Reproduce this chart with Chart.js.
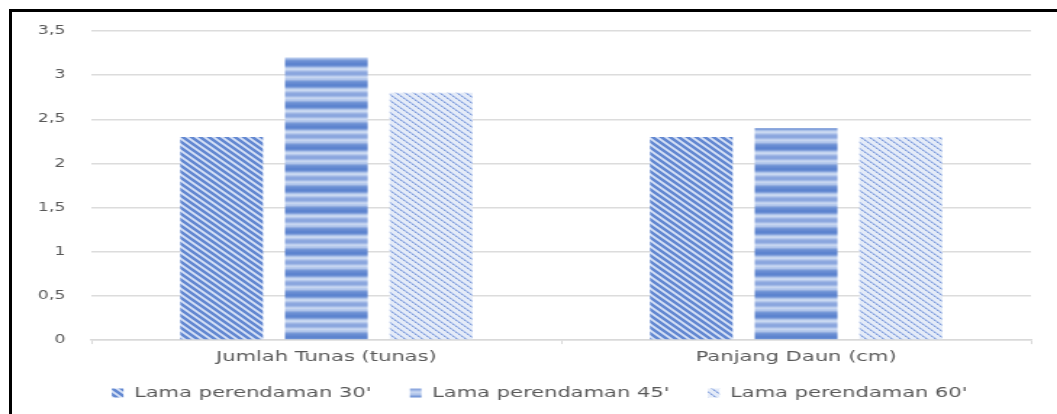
<!DOCTYPE html>
<html>
<head>
<meta charset="utf-8">
<script src="https://cdn.jsdelivr.net/npm/chart.js@4.4.1/dist/chart.umd.min.js"></script>
<style>
  html, body { margin: 0; padding: 0; background: #fff; overflow: hidden; }
  /* the chart is laid out narrow and widened horizontally */
  #stage { position: absolute; left: 0; top: 0; width: 729px; height: 414px;
           transform: scaleX(1.45); transform-origin: 0 0; }
  #frame { position: absolute; left: 9px; top: 9px; width: 1100px; height: 500px;
           border-top: 3px solid #000; border-left: 3px solid #000; pointer-events: none; }
</style>
</head>
<body>
<div id="stage"><canvas id="c" width="729" height="414"></canvas></div>
<div id="frame"></div>
<script>
const categories = ['Jumlah Tunas (tunas)', 'Panjang Daun (cm)'];
const seriesNames = ["Lama perendaman 30'", "Lama perendaman 45'", "Lama perendaman 60'"];
const soak30 = [2.3, 2.3];
const soak45 = [3.2, 2.4];
const soak60 = [2.8, 2.3];
const yTickLabels = ['0', '0,5', '1', '1,5', '2', '2,5', '3', '3,5'];

const FONT = 'DejaVu Sans';
const TEXT = '#595959';
const canvas = document.getElementById('c');
const mainCtx = canvas.getContext('2d');

function makePattern(w, h, paint) {
  const t = document.createElement('canvas');
  t.width = w; t.height = h;
  paint(t.getContext('2d'), w, h);
  return mainCtx.createPattern(t, 'repeat');
}

// dense diagonal hatch
const hatch30 = makePattern(6, 6, (x, w, h) => {
  x.fillStyle = '#b9cbee'; x.fillRect(0, 0, w, h);
  x.fillStyle = '#6388d1';
  for (let r = 0; r < h; r++) for (let k = 0; k < 3; k++) x.fillRect((r + k) % w, r, 1, 1);
  x.fillStyle = '#dae3f6';
  for (let r = 0; r < h; r++) x.fillRect((r + 4) % w, r, 1, 1);
});

// horizontal stripes
const stripeRows = ['#5d84cf', '#5d84cf', '#6a8ed3', '#86a3dc', '#a9c0e8', '#c3d3ef', '#c9d8f1',
  '#b5c8ec', '#9fb6e4', '#8fa9df', '#8aa6de', '#8fa9df', '#a3bae6', '#bccdee', '#c6d5f0',
  '#b8cbed', '#aec3ea', '#92acdf', '#7799d8', '#6a8ed3', '#6589d1'];
const stripe45 = makePattern(4, stripeRows.length, (x, w) => {
  stripeRows.forEach((c, i) => { x.fillStyle = c; x.fillRect(0, i, w, 1); });
});

// light dotted diagonal
const dots60 = makePattern(6, 6, (x, w, h) => {
  x.fillStyle = '#e4ebf8'; x.fillRect(0, 0, w, h);
  x.fillStyle = '#b0c3ec';
  for (let r = 0; r < h; r++) for (let k = 0; k < 2; k++) x.fillRect((r + k) % w, r, 1, 1);
  x.fillStyle = '#7f9bd8';
  for (let r = 0; r < h; r += 2) x.fillRect(r % w, r, 1, 1);
});

// keeps the legend row close under the category labels
const legendPlacement = {
  id: 'legendPlacement',
  afterInit(chart) {
    const lg = chart.legend;
    const fit0 = lg.fit.bind(lg);
    lg.fit = function () { fit0(); this.height -= 20; };
  },
  afterLayout(chart) {
    const lg = chart.legend;
    lg.top -= 10.25;
    lg.height = lg.bottom - lg.top;
    lg.left += 12.7;
    lg.right += 12.7;
  }
};

new Chart(canvas, {
  type: 'bar',
  data: {
    labels: categories,
    datasets: [
      { label: seriesNames[0], data: soak30, backgroundColor: hatch30, borderWidth: 0 },
      { label: seriesNames[1], data: soak45, backgroundColor: stripe45, borderWidth: 0 },
      { label: seriesNames[2], data: soak60, backgroundColor: dots60, borderWidth: 0 }
    ]
  },
  plugins: [legendPlacement],
  options: {
    responsive: false,
    animation: false,
    devicePixelRatio: 1,
    categoryPercentage: 0.669,
    barPercentage: 0.79,
    layout: { padding: { top: 31, left: 8, right: 18, bottom: 13.5 } },
    plugins: {
      tooltip: { enabled: false },
      legend: {
        position: 'bottom',
        labels: {
          boxWidth: 8, boxHeight: 9, padding: 26.5, color: TEXT,
          font: { family: FONT, size: 14.5 }
        }
      }
    },
    scales: {
      x: {
        grid: { display: true, drawOnChartArea: false, drawTicks: true, tickLength: 4,
                color: '#d9d9d9', offset: true },
        border: { display: true, color: '#d9d9d9', width: 1.5 },
        ticks: { color: TEXT, padding: 4, font: { family: FONT, size: 14.5 } }
      },
      y: {
        min: 0, max: 3.5,
        grid: { color: '#dcdcdc', lineWidth: 1.5, drawTicks: false },
        border: { display: false },
        ticks: {
          stepSize: 0.5, color: TEXT, padding: 18,
          font: { family: FONT, size: 12 },
          callback: (v) => yTickLabels[Math.round(v / 0.5)]
        }
      }
    }
  }
});
</script>
</body>
</html>
